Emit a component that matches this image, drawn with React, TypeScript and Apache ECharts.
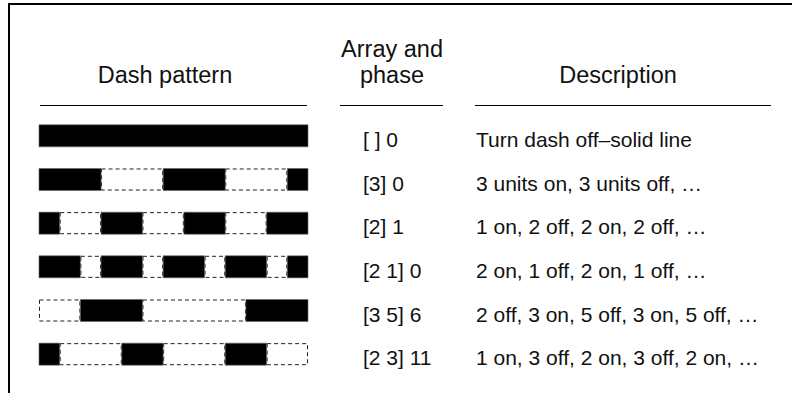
import React, { useEffect, useRef } from "react";
import * as echarts from "echarts";

// ---- data ----
const dashArrays: number[][] = [[], [3], [2], [2, 1], [3, 5], [2, 3]];
const dashPhases: number[] = [0, 0, 1, 0, 6, 11];
const arrayLabels: string[] = ["[ ] 0", "[3] 0", "[2] 1", "[2 1] 0", "[3 5] 6", "[2 3] 11"];
const descriptions: string[] = [
  "Turn dash off\u2013solid line",
  "3 units on, 3 units off, \u2026",
  "1 on, 2 off, 2 on, 2 off, \u2026",
  "2 on, 1 off, 2 on, 1 off, \u2026",
  "2 off, 3 on, 5 off, 3 on, 5 off, \u2026",
  "1 on, 3 off, 2 on, 3 off, 2 on, \u2026",
];
const totalUnits = 13;
const headers = { dash: "Dash pattern", array1: "Array and", array2: "phase", desc: "Description" };

type Seg = { start: number; end: number; on: boolean };

function buildSegments(pattern: number[], phase: number, total: number): Seg[] {
  if (pattern.length === 0) return [{ start: 0, end: total, on: true }];
  const segs: Seg[] = [];
  let k = 0;
  let skip = phase;
  let pos = 0;
  let guard = 0;
  while (pos < total && guard < 1000) {
    guard++;
    let len = pattern[k % pattern.length];
    const on = k % 2 === 0;
    k++;
    if (skip > 0) {
      if (skip >= len) {
        skip -= len;
        continue;
      }
      len -= skip;
      skip = 0;
    }
    const end = Math.min(total, pos + len);
    segs.push({ start: pos, end, on });
    pos = end;
  }
  return segs;
}

const FONT = "'Liberation Sans', Arial, Helvetica, sans-serif";
const TEXT = "#111";

export default function App() {
  const ref = useRef<HTMLDivElement>(null);
  useEffect(() => {
    if (!ref.current) return;
    const chart = echarts.init(ref.current, undefined, { renderer: "svg" });
    const rowIdx = arrayLabels.map((_, i) => i);
    chart.setOption({
      animation: false,
      backgroundColor: "#fff",
      grid: { left: 39, top: 114, width: 269, height: 262 },
      xAxis: { type: "value", min: 0, max: totalUnits, show: false },
      yAxis: { type: "category", data: arrayLabels, inverse: true, show: false },
      series: [
        {
          type: "custom",
          data: rowIdx,
          silent: true,
          renderItem: (params: any, api: any) => {
            const i = api.value(0);
            const segs = buildSegments(dashArrays[i], dashPhases[i], totalUnits);
            const cy = api.coord([0, i])[1];
            const h = api.size([0, 1])[1] * 0.505;
            const children: any[] = [];
            segs.filter((s) => !s.on).forEach((s) => {
              const x0 = api.coord([s.start, i])[0];
              const x1 = api.coord([s.end, i])[0];
              children.push({
                type: "rect",
                shape: { x: x0 + 0.5, y: cy - h / 2 + 0.5, width: x1 - x0 - 1, height: h - 1 },
                style: { fill: "none", stroke: "#222", lineWidth: 1, lineDash: [4, 3] },
              });
            });
            segs.filter((s) => s.on).forEach((s) => {
              const x0 = api.coord([s.start, i])[0];
              const x1 = api.coord([s.end, i])[0];
              children.push({
                type: "rect",
                shape: { x: x0, y: cy - h / 2, width: x1 - x0, height: h },
                style: { fill: "#000", stroke: "#666", lineWidth: 0.6 },
              });
            });
            return { type: "group", children };
          },
        },
        {
          type: "custom",
          data: rowIdx,
          silent: true,
          renderItem: (params: any, api: any) => {
            const i = api.value(0);
            const cy = api.coord([0, i])[1] + 3.5;
            return {
              type: "group",
              children: [
                {
                  type: "text",
                  x: 363,
                  y: cy,
                  style: {
                    text: arrayLabels[i],
                    fill: TEXT,
                    font: `21px ${FONT}`,
                    align: "left",
                    verticalAlign: "middle",
                  },
                },
                {
                  type: "text",
                  x: 476,
                  y: cy,
                  style: {
                    text: descriptions[i],
                    fill: TEXT,
                    font: `21px ${FONT}`,
                    align: "left",
                    verticalAlign: "middle",
                  },
                },
              ],
            };
          },
        },
      ],
      graphic: [
        { type: "line", shape: { x1: 8, y1: 4, x2: 792, y2: 4 }, style: { stroke: "#000", lineWidth: 2 } },
        { type: "line", shape: { x1: 9, y1: 3, x2: 9, y2: 393 }, style: { stroke: "#000", lineWidth: 2 } },
        { type: "line", shape: { x1: 40, y1: 105.5, x2: 307, y2: 105.5 }, style: { stroke: "#000", lineWidth: 1.2 } },
        { type: "line", shape: { x1: 340, y1: 105.5, x2: 443, y2: 105.5 }, style: { stroke: "#000", lineWidth: 1.2 } },
        { type: "line", shape: { x1: 475, y1: 105.5, x2: 771, y2: 105.5 }, style: { stroke: "#000", lineWidth: 1.2 } },
        {
          type: "text",
          x: 165,
          y: 74.5,
          style: { text: headers.dash, fill: TEXT, font: `23.5px ${FONT}`, align: "center", verticalAlign: "middle" },
        },
        {
          type: "text",
          x: 392,
          y: 48.5,
          style: { text: headers.array1, fill: TEXT, font: `23.5px ${FONT}`, align: "center", verticalAlign: "middle" },
        },
        {
          type: "text",
          x: 392,
          y: 74.5,
          style: { text: headers.array2, fill: TEXT, font: `23.5px ${FONT}`, align: "center", verticalAlign: "middle" },
        },
        {
          type: "text",
          x: 618,
          y: 74.5,
          style: { text: headers.desc, fill: TEXT, font: `23.5px ${FONT}`, align: "center", verticalAlign: "middle" },
        },
      ],
    });
    return () => chart.dispose();
  }, []);
  return (
    <div
      ref={ref}
      style={{ position: "fixed", left: 0, top: 0, width: 792, height: 393, background: "#fff" }}
    />
  );
}
